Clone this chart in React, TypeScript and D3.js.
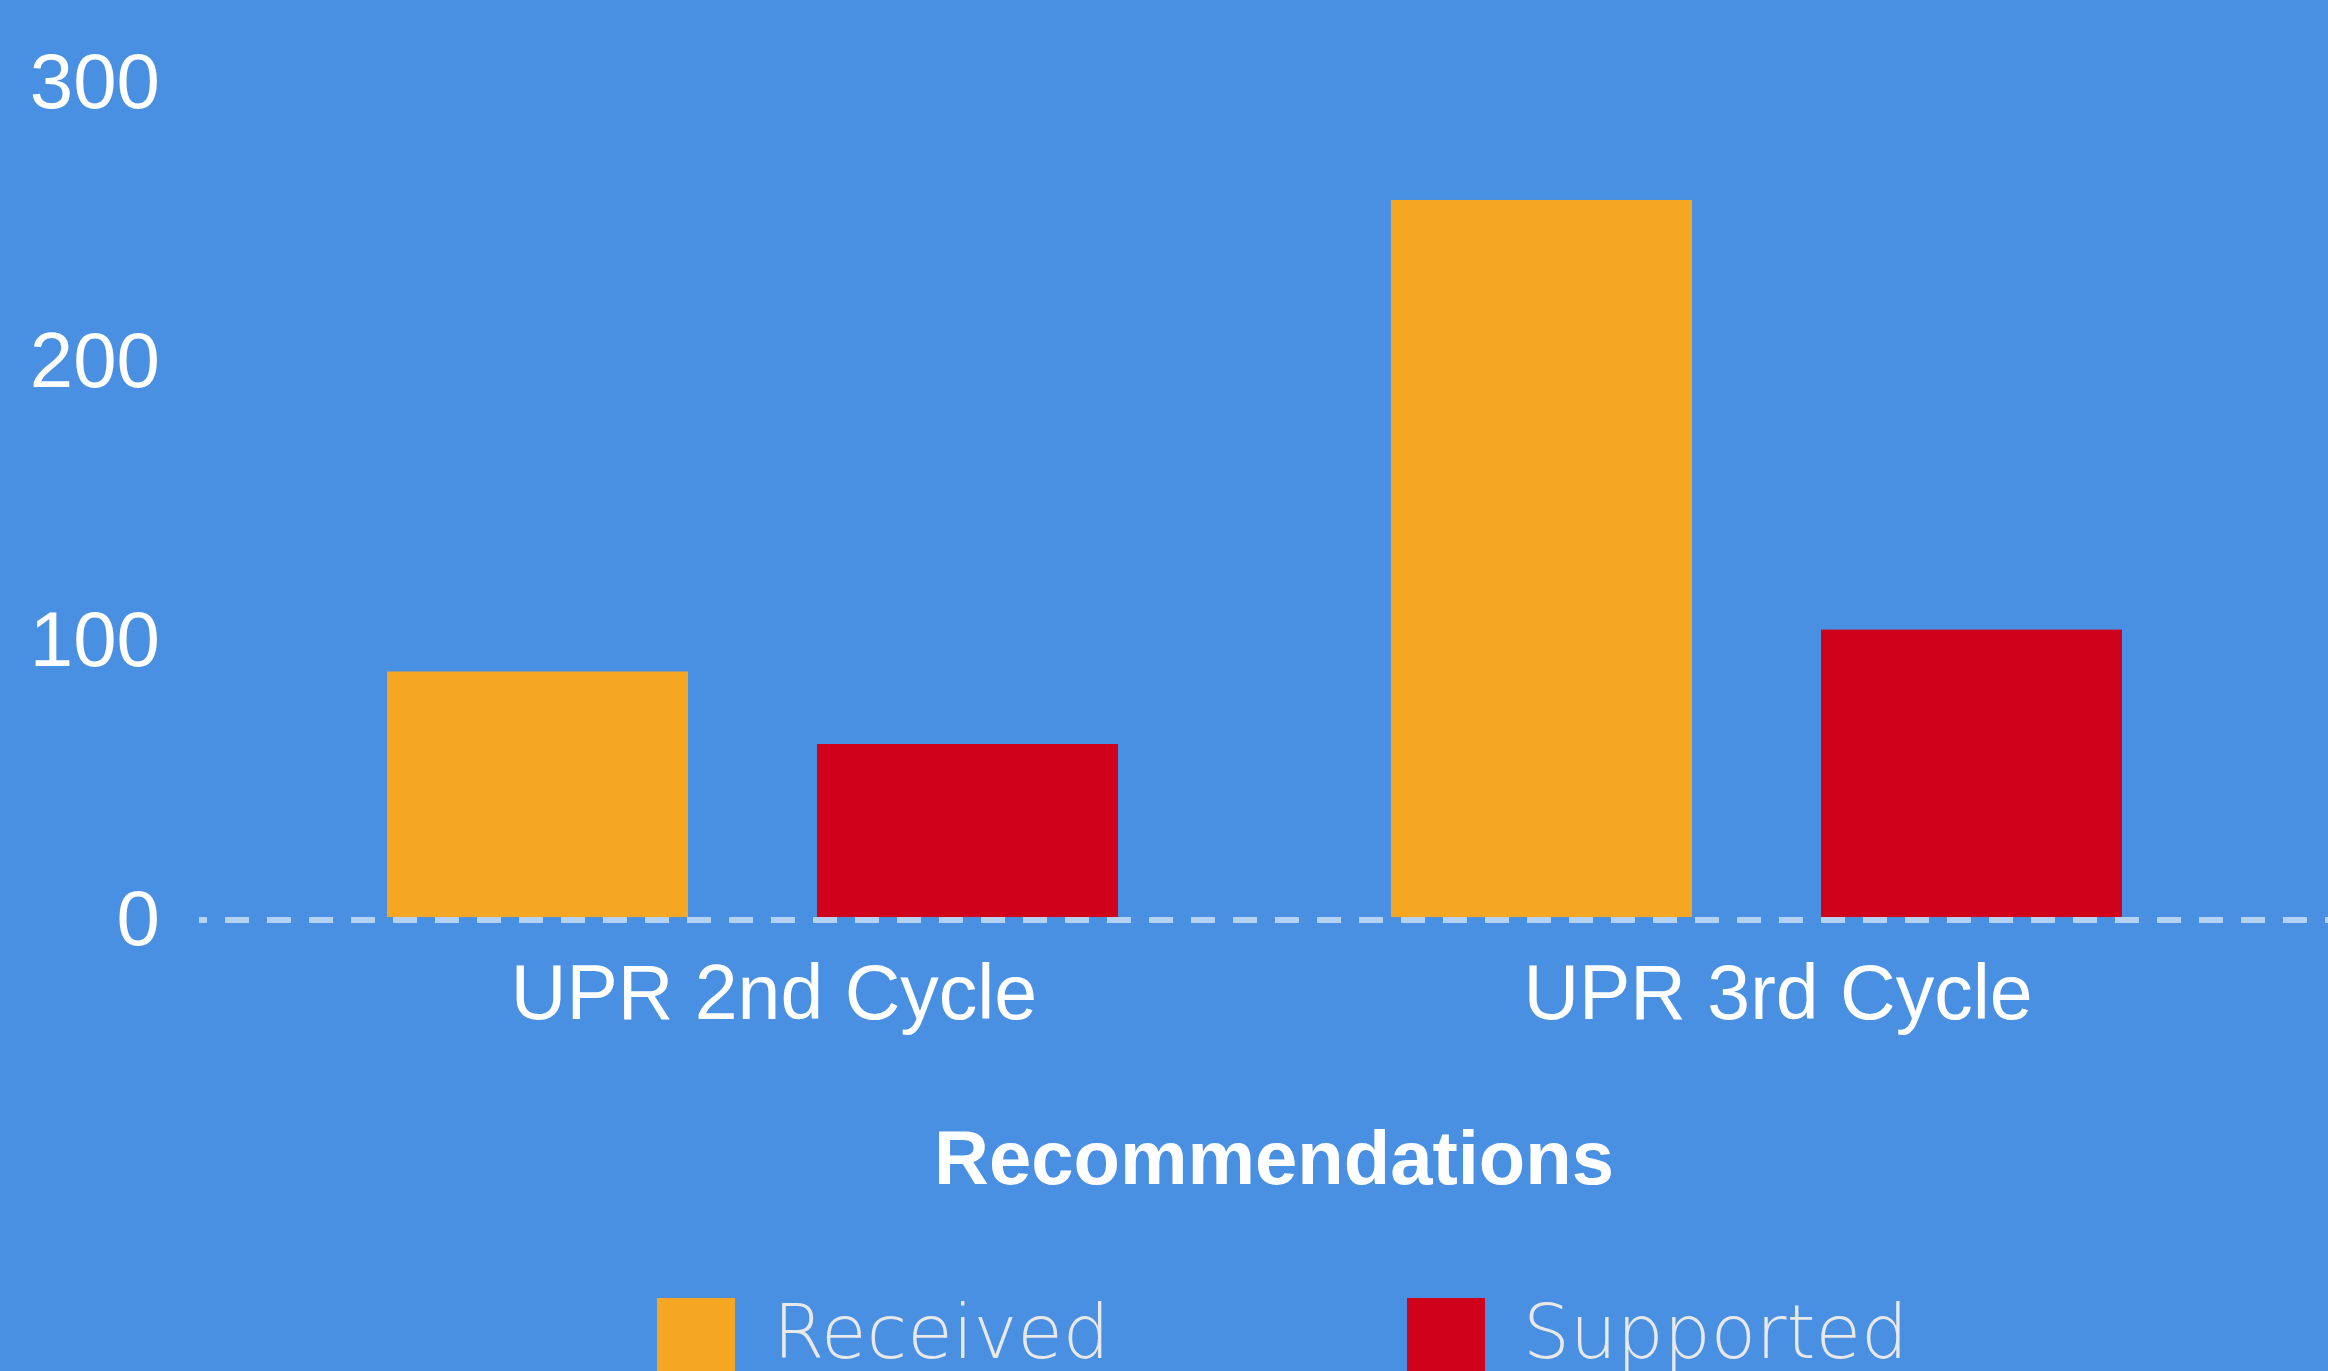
import { useEffect, useRef } from "react";
import * as d3 from "d3";

const categories = ["UPR 2nd Cycle", "UPR 3rd Cycle"];
const seriesNames = ["Received", "Supported"];
const received = [88, 257];
const supported = [62, 103];
const yTicks = [0, 100, 200, 300];
const axisTitle = "Recommendations";

const colors = ["#F5A623", "#D0021B"];

export default function App() {
  const ref = useRef<SVGSVGElement>(null);

  useEffect(() => {
    document.body.style.margin = "0";
    const width = 2328;
    const height = 1371;
    const svg = d3.select(ref.current);
    svg.selectAll("*").remove();

    svg.append("rect").attr("width", width).attr("height", height).attr("fill", "#4A90E2");

    const data = categories.map((c, i) => ({
      category: c,
      values: [received[i], supported[i]],
    }));

    const x0 = d3.scaleBand().domain(categories).range([272, 2280]).padding(0);
    const x1 = d3
      .scaleBand()
      .domain(seriesNames)
      .range([115, 846])
      .paddingInner(0.3)
      .paddingOuter(0);
    const y = d3.scaleLinear().domain([0, 300]).range([917, 80]);

    // bars
    const groups = svg
      .selectAll("g.group")
      .data(data)
      .enter()
      .append("g")
      .attr("class", "group")
      .attr("transform", (d) => `translate(${x0(d.category)},0)`);

    groups
      .selectAll("rect")
      .data((d) => d.values.map((v, i) => ({ key: seriesNames[i], value: v, i })))
      .enter()
      .append("rect")
      .attr("x", (d) => x1(d.key)!)
      .attr("y", (d) => y(d.value))
      .attr("width", x1.bandwidth())
      .attr("height", (d) => y(0) - y(d.value))
      .attr("fill", (d) => colors[d.i]);

    // dashed baseline
    svg
      .append("line")
      .attr("x1", 199)
      .attr("x2", width)
      .attr("y1", y(0) + 3)
      .attr("y2", y(0) + 3)
      .attr("stroke", "rgba(255,255,255,0.6)")
      .attr("stroke-width", 6)
      .attr("stroke-dasharray", "24 18")
      .attr("stroke-dashoffset", 16);

    // y tick labels
    svg
      .selectAll("text.ytick")
      .data(yTicks)
      .enter()
      .append("text")
      .attr("class", "ytick")
      .attr("x", 160)
      .attr("y", (d) => y(d))
      .attr("dy", "0.36em")
      .attr("text-anchor", "end")
      .attr("font-family", "Liberation Sans, Arial, sans-serif")
      .attr("font-size", 78)
      .attr("fill", "#fff")
      .text((d) => d);

    // category labels
    svg
      .selectAll("text.xtick")
      .data(categories)
      .enter()
      .append("text")
      .attr("class", "xtick")
      .attr("x", (d) => x0(d)! + x0.bandwidth() / 2)
      .attr("y", 1019)
      .attr("text-anchor", "middle")
      .attr("font-family", "Liberation Sans, Arial, sans-serif")
      .attr("font-size", 77)
      .attr("fill", "#fff")
      .text((d) => d);

    // axis title
    svg
      .append("text")
      .attr("x", 1274)
      .attr("y", 1184)
      .attr("text-anchor", "middle")
      .attr("font-family", "Liberation Sans, Arial, sans-serif")
      .attr("font-size", 76)
      .attr("font-weight", "bold")
      .attr("fill", "#fff")
      .text(axisTitle);

    // legend
    const legend = svg
      .selectAll("g.legend")
      .data(seriesNames)
      .enter()
      .append("g")
      .attr("class", "legend")
      .attr("transform", (_, i) => `translate(${657 + i * 750},1298)`);

    legend
      .append("rect")
      .attr("width", 78)
      .attr("height", 100)
      .attr("fill", (_, i) => colors[i]);

    legend
      .append("text")
      .attr("x", 116)
      .attr("y", 60)
      .attr("font-family", "DejaVu Sans, sans-serif")
      .attr("font-weight", 200)
      .attr("font-size", 74)
      .attr("fill", "#e8e8e8")
      .text((d) => d);
  }, []);

  return <svg ref={ref} width={2328} height={1371} style={{ display: "block" }} />;
}
